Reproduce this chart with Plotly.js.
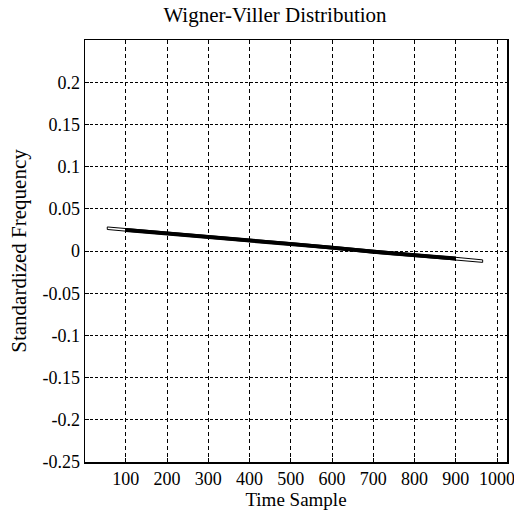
<!DOCTYPE html>
<html>
<head>
<meta charset="utf-8">
<script src="https://cdn.plot.ly/plotly-3.0.1.min.js"></script>
<style>html,body{margin:0;padding:0;background:#fff;}#chart{width:514px;height:512px;}</style>
</head>
<body>
<div id="chart"></div>
<script>
// Ridge of the Wigner-Ville distribution (time sample vs standardized frequency)
const timeSample = [55, 100, 200, 300, 400, 500, 600, 700, 800, 900, 965];
const ridgeFreq  = [0.027, 0.025, 0.021, 0.017, 0.0125, 0.0085, 0.004, -0.001, -0.005, -0.009, -0.012];
// contour outline edges (upper / lower) of the ridge
const upperEdge  = [0.0285, 0.0265, 0.0225, 0.0185, 0.014, 0.010, 0.0055, 0.0005, -0.0035, -0.0075, -0.0105];
const lowerEdge  = [0.0255, 0.0235, 0.0195, 0.0155, 0.011, 0.007, 0.0025, -0.0025, -0.0065, -0.0105, -0.0135];
const xTicks = [100, 200, 300, 400, 500, 600, 700, 800, 900, 1000];
const yTicks = [-0.25, -0.2, -0.15, -0.1, -0.05, 0, 0.05, 0.1, 0.15, 0.2];

const outlineX = timeSample.concat(timeSample.slice().reverse(), [timeSample[0]]);
const outlineY = upperEdge.concat(lowerEdge.slice().reverse(), [upperEdge[0]]);

const traces = [
  {x: outlineX, y: outlineY, mode: 'lines', line: {color: '#000', width: 1}, hoverinfo: 'skip'},
  {x: timeSample.slice(1, -1), y: ridgeFreq.slice(1, -1), mode: 'lines', line: {color: '#000', width: 4}}
];

const font = {family: '"Liberation Serif", "Times New Roman", serif', color: '#000'};
const layout = {
  width: 514, height: 512,
  margin: {l: 85, r: 7, t: 40, b: 50},
  paper_bgcolor: '#fff', plot_bgcolor: '#fff',
  showlegend: false,
  font: Object.assign({size: 18}, font),
  title: {text: 'Wigner-Viller Distribution', font: Object.assign({size: 21}, font), x: 0.535, xanchor: 'center', y: 0.972, yanchor: 'middle'},
  xaxis: {
    range: [1, 1024], tickvals: xTicks, ticktext: xTicks.map(String), automargin: false,
    ticklabeloverflow: 'allow',
    showgrid: true, gridcolor: '#000', gridwidth: 1, griddash: '4px,3px',
    showline: true, linecolor: '#000', linewidth: 1.5, mirror: true,
    ticks: 'inside', ticklen: 4, tickcolor: '#000',
    zeroline: false, tickfont: Object.assign({size: 18}, font),
    title: {text: 'Time Sample', font: Object.assign({size: 19}, font), standoff: 2}
  },
  yaxis: {
    range: [-0.25, 0.25], tickvals: yTicks, ticktext: yTicks.map(v => v === 0 ? '0' : String(v)), automargin: false,
    ticklabeloverflow: 'allow',
    showgrid: true, gridcolor: '#000', gridwidth: 1, griddash: '3px,2px',
    showline: true, linecolor: '#000', linewidth: 1.5, mirror: true,
    ticks: 'inside', ticklen: 4, tickcolor: '#000',
    zeroline: false, tickfont: Object.assign({size: 18}, font),
    title: {text: 'Standardized Frequency', font: Object.assign({size: 21}, font), standoff: 10}
  }
};
Plotly.newPlot('chart', traces, layout, {displayModeBar: false, staticPlot: true});
</script>
</body>
</html>
